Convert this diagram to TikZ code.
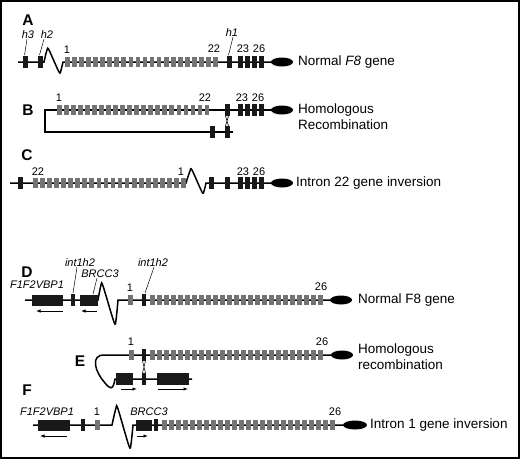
\documentclass[tikz,border=0pt]{standalone}
\usepackage{fontspec}
\setmainfont{Liberation Sans}
\usetikzlibrary{arrows.meta}

\begin{document}
\begin{tikzpicture}[x=1pt, y=-1pt,
    backbone/.style={line width=1.5pt},
    exon/.style={fill=black!55},
    hexon/.style={fill=black!90},
    num/.style={font=\fontsize{11}{12}\selectfont, inner sep=0pt},
    gname/.style={font=\fontsize{11}{12}\selectfont\itshape, inner sep=0pt},
    rowlbl/.style={font=\fontsize{15.5}{17}\selectfont\bfseries, inner sep=0pt},
    caption/.style={font=\fontsize{13.5}{16}\selectfont, anchor=west, align=left, inner sep=0pt},
    pointer/.style={line width=0.5pt},
    strand/.style={-{Latex[length=4.5pt, width=3.5pt]}, line width=0.8pt},
    cross/.style={line width=0.6pt}]
  \useasboundingbox (0,0) rectangle (520,459);

  % Frame
  \draw[line width=2pt] (1,1) rectangle (519,458);

  % A: normal F8 gene
  \node[rowlbl] (rowA) at (28,20) {A};
  \draw[backbone] (18,62) -- (44,62)
    -- plot[smooth, tension=0.5] coordinates {(44,62) (47,50) (49,50) (59,72) (61,70) (63,62)}
    -- (272,62);
  \foreach \i in {0,...,21}
    \fill[exon] ({65+7.06*\i},57) rectangle +(4.7,10);
  \foreach \x in {22.5,37.5,226.5}
    \fill[hexon] (\x,56) rectangle +(5,12);
  \foreach \i in {0,...,3}
    \fill[hexon] ({237.5+7*\i},56) rectangle +(5,12);
  \fill (282,62) ellipse [x radius=11pt, y radius=4.5pt];
  \coordinate (h3) at (24.5,55);
  \coordinate (h2) at (39.5,55);
  \coordinate (h1) at (228.5,55);
  \node[gname] (h3A) at (28,35) {h3};
  \node[gname] (h2A) at (47,35) {h2};
  \node[gname] (h1A) at (232,33) {h1};
  \draw[pointer] ([xshift=-1pt]h3A.south) -- (h3);
  \draw[pointer] ([xshift=-3pt]h2A.south) -- (h2);
  \draw[pointer] ([xshift=1pt]h1A.south) -- (h1);
  \node[num] (a1) at (67,50) {1};
  \node[num] (a22) at (214,49) {22};
  \node[num] (a23) at (243,49) {23};
  \node[num] (a26) at (259,49) {26};
  \node[caption] (capA) at (298,62) {Normal \textit{F8} gene};

  % B: homologous recombination between h1 and h2/h3
  \node[rowlbl] (rowB) at (28,110) {B};
  \draw[backbone] (272,110) -- (45,110) -- (45,132) -- (233,132);
  \foreach \i in {0,...,21}
    \fill[exon] ({57+7.03*\i},105) rectangle +(4.7,10);
  \fill[hexon] (224.5,104) rectangle +(5,12);
  \foreach \i in {0,...,3}
    \fill[hexon] ({237.5+7*\i},104) rectangle +(5,12);
  \foreach \x in {209.5,224.5}
    \fill[hexon] (\x,126) rectangle +(5,12);
  \draw[cross] (225.5,116) -- (228.5,126) (228.5,116) -- (225.5,126);
  \fill (282,110) ellipse [x radius=11pt, y radius=4.5pt];
  \node[num] (b1) at (59,98) {1};
  \node[num] (b22) at (205,98) {22};
  \node[num] (b23) at (242,98) {23};
  \node[num] (b26) at (258,98) {26};
  \node[caption] (capB) at (298,117) {Homologous\\Recombination};

  % C: intron 22 inversion
  \node[rowlbl] (rowC) at (27,155) {C};
  \draw[backbone] (10,183) -- (186,183)
    -- plot[smooth, tension=0.5] coordinates {(186,183) (190,171) (192,170) (202,192) (204,191) (206,183)}
    -- (272,183);
  \fill[hexon] (17.5,177) rectangle +(5,12);
  \foreach \i in {0,...,21}
    \fill[exon] ({33+7.06*\i},178) rectangle +(4.7,10);
  \foreach \x in {208.5,224.5}
    \fill[hexon] (\x,177) rectangle +(5,12);
  \foreach \i in {0,...,3}
    \fill[hexon] ({237.5+7*\i},177) rectangle +(5,12);
  \fill (282,183) ellipse [x radius=11pt, y radius=4.5pt];
  \node[num] (c22) at (38,172) {22};
  \node[num] (c1) at (181,172) {1};
  \node[num] (c23) at (243,172) {23};
  \node[num] (c26) at (259,172) {26};
  \node[caption] (capC) at (296,183) {Intron 22 gene inversion};

  % D: normal F8 gene with intron 1 repeats
  \node[rowlbl] (rowD) at (27,272) {D};
  \draw[backbone] (25,300) -- (98,300)
    -- plot[smooth, tension=0.5] coordinates {(98,300) (101,285) (103,286) (114,322) (116,320) (118,300)}
    -- (332,300);
  \fill[hexon] (32,295) rectangle (63,306);
  \fill[hexon] (71,294) rectangle +(4,12);
  \fill[hexon] (80,295) rectangle (98,306);
  \fill[exon] (128,295) rectangle +(4.7,10);
  \fill[hexon] (142,294) rectangle +(4,12);
  \foreach \i in {0,...,24}
    \fill[exon] ({150+7.01*\i},295) rectangle +(4.7,10);
  \fill (341,300) ellipse [x radius=11pt, y radius=4.5pt];
  \coordinate (ihD1) at (73,293);
  \coordinate (brD) at (93,294);
  \coordinate (ihD2) at (145,293);
  \node[gname] (fD) at (37,285) {F1F2VBP1};
  \node[gname] (ihlD1) at (80,263) {int1h2};
  \node[gname] (brlD) at (100,274) {BRCC3};
  \node[gname] (ihlD2) at (153,263) {int1h2};
  \draw[pointer] ([xshift=-3pt]ihlD1.south) -- (ihD1);
  \draw[pointer] ([xshift=-3pt]brlD.south) -- (brD);
  \draw[pointer] ([xshift=1pt]ihlD2.south) -- (ihD2);
  \coordinate (fDr) at (63,311);
  \coordinate (fDl) at (36,311);
  \coordinate (bDr) at (97,311);
  \coordinate (bDl) at (81,311);
  \draw[strand] (fDr) -- (fDl);
  \draw[strand] (bDr) -- (bDl);
  \node[num] (d1) at (130,288) {1};
  \node[num] (d26) at (321,287) {26};
  \node[caption] (capD) at (358,300) {Normal F8 gene};

  % E: homologous recombination between int1h2 copies
  \node[rowlbl] (rowE) at (80,361) {E};
  \draw[backbone] (332,355) -- (104,355)
    .. controls (90,355) and (95,372) .. (105,383)
    .. controls (110,389) and (113,391) .. (115,379) -- (192,379);
  \fill[exon] (129,350) rectangle +(4.7,10);
  \fill[hexon] (142,349) rectangle +(4,12);
  \foreach \i in {0,...,24}
    \fill[exon] ({150+7.01*\i},350) rectangle +(4.7,10);
  \fill[hexon] (116,373) rectangle (133,385);
  \fill[hexon] (142,373) rectangle +(4,12);
  \fill[hexon] (157,373) rectangle (189,385);
  \draw[cross] (142.5,361) -- (145.5,373) (145.5,361) -- (142.5,373);
  \fill (342,355) ellipse [x radius=11pt, y radius=4.5pt];
  \coordinate (bEl) at (121,389);
  \coordinate (bEr) at (137,389);
  \coordinate (fEl) at (158,389);
  \coordinate (fEr) at (188,389);
  \draw[strand] (bEl) -- (bEr);
  \draw[strand] (fEl) -- (fEr);
  \node[num] (e1) at (131,342) {1};
  \node[num] (e26) at (322,342) {26};
  \node[caption] (capE) at (358,357) {Homologous\\recombination};

  % F: intron 1 inversion
  \node[rowlbl] (rowF) at (27,390) {F};
  \draw[backbone] (33,425) -- (112,425)
    -- plot[smooth, tension=0.5] coordinates {(112,425) (116,408) (118,409) (129,446) (131,444) (133,425)}
    -- (346,425);
  \fill[hexon] (38,420) rectangle (70,431);
  \fill[hexon] (81,419) rectangle +(4,12);
  \fill[exon] (95,420) rectangle +(4.7,10);
  \fill[hexon] (136,420) rectangle (152,431);
  \fill[hexon] (154,419) rectangle +(4,12);
  \foreach \i in {0,...,24}
    \fill[exon] ({162+7.01*\i},420) rectangle +(4.7,10);
  \fill (355,425) ellipse [x radius=12pt, y radius=4.5pt];
  \coordinate (fFr) at (67,436);
  \coordinate (fFl) at (40,436);
  \coordinate (bFl) at (137,436);
  \coordinate (bFr) at (148,436);
  \draw[strand] (fFr) -- (fFl);
  \draw[strand] (bFl) -- (bFr);
  \node[gname] (fF) at (47,412) {F1F2VBP1};
  \node[num] (f1) at (97,412) {1};
  \node[gname] (brF) at (149,412) {BRCC3};
  \node[num] (f26) at (335,412) {26};
  \node[caption] (capF) at (370,425) {Intron 1 gene inversion};
\end{tikzpicture}
\end{document}
